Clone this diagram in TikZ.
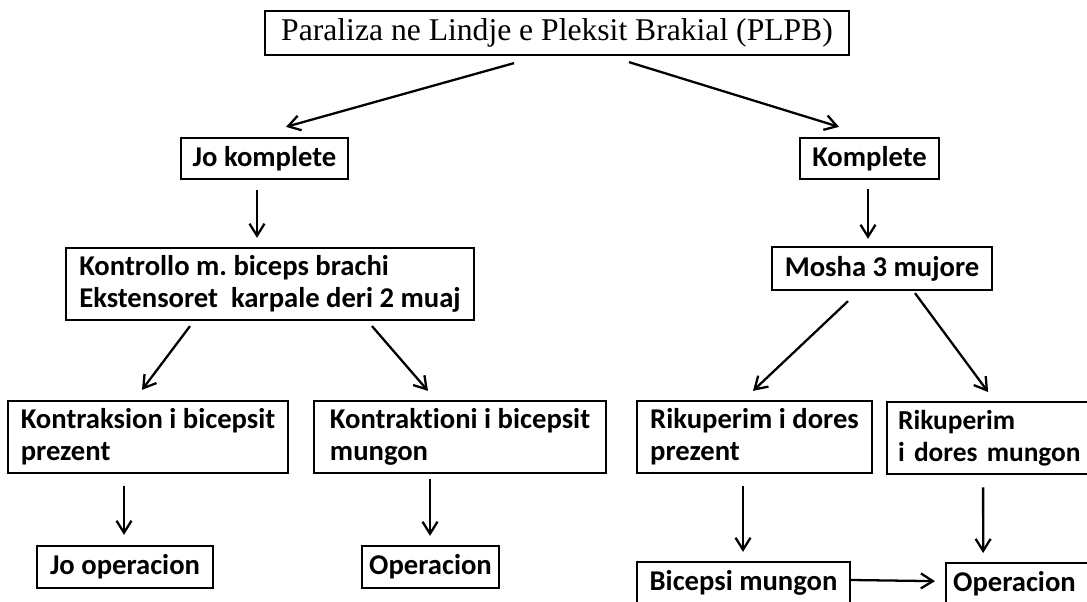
\documentclass[tikz,border=0pt]{standalone}
\usepackage{fontspec}
\setmainfont{Liberation Serif}
\setsansfont{Carlito}[Ligatures=NoCommon]
\usetikzlibrary{arrows.meta,calc}

\tikzset{
  box/.style={draw, line width=1.3pt, align=left, inner sep=0pt,
    font=\sffamily\bfseries\fontsize{16.3}{18}\selectfont},
  arr/.style={line width=1.3pt, -{Straight Barb[length=2.4mm,width=3mm]}}
}
\frenchspacing

\begin{document}
\begin{tikzpicture}[x=0.02cm, y=-0.02cm]
\useasboundingbox (0,0) rectangle (1087,601);

% Drawing boxes
\node[draw, line width=1.3pt, minimum width=11.68cm, minimum height=0.88cm, inner sep=0pt,
  font=\fontsize{18}{20}\selectfont] (plpb) at (557,33) {Paraliza ne Lindje e Pleksit Brakial (PLPB)};
\node[box, minimum width=3.34cm, minimum height=0.82cm] (jokompl) at (264.5,158.5) {Jo komplete};
\node[box, minimum width=2.78cm, minimum height=0.82cm] (kompl) at (869.5,158.5) {Komplete};
\node[box, minimum width=8.16cm, minimum height=1.44cm] (kontroll) at (270,284) {Kontrollo m. biceps brachi\\Ekstensoret\ \ karpale deri 2 muaj};
\node[box, minimum width=4.4cm, minimum height=0.86cm] (mosha) at (882,268.5) {Mosha 3 mujore};
\node[box, minimum width=5.6cm, minimum height=1.44cm] (kprez) at (148,437) {Kontraksion i bicepsit\\prezent};
\node[box, minimum width=5.84cm, minimum height=1.44cm] (kmung) at (460,437) {Kontraktioni i bicepsit\\mungon};
\node[box, minimum width=4.7cm, minimum height=1.44cm] (rprez) at (754.5,437) {Rikuperim i dores\\prezent};
\node[box, anchor=north west, text width=4cm, inner xsep=0.22cm, minimum height=1.44cm,
  font=\sffamily\bfseries\fontsize{15.6}{18}\selectfont] (rmung) at (886,401) {Rikuperim\\\mbox{i dores mungon}};
\node[box, minimum width=3.52cm, minimum height=0.84cm] (joop) at (125,567) {Jo operacion};
\node[box, minimum width=2.74cm, minimum height=0.84cm] (oplft) at (430.5,567) {Operacion};
\node[box, minimum width=4.26cm, minimum height=0.84cm] (bimung) at (743.5,583) {Bicepsi mungon};
\node[box, anchor=north west, text width=3cm, inner xsep=0.14cm, minimum height=0.84cm] (oprgt) at (945,562) {Operacion};

% Drawing arrows
\draw[arr] ($(plpb.south)+(-43,7)$) -- ($(jokompl.north)+(21.5,-10)$);
\draw[arr] ($(plpb.south)+(72,6)$) -- ($(kompl.north)+(-30.5,-10)$);
\draw[arr] ($(jokompl.south)+(-7.5,10)$) -- ($(kontroll.north)+(-13,-9)$);
\draw[arr] ($(kompl.south)+(-1.5,9)$) -- ($(mosha.north)+(-14,-7)$);
\draw[arr] ($(kontroll.south)+(-80,5)$) -- ($(kprez.north)+(-6,-10)$);
\draw[arr] ($(kontroll.south)+(102,5)$) -- ($(kmung.north)+(-32,-9)$);
\draw[arr] ($(mosha.south)+(-34,10)$) -- ($(rprez.north)+(-1.5,-9)$);
\draw[arr] ($(mosha.south)+(33,2)$) -- ($(rmung.north)+(-10,-9)$);
\draw[arr] ($(kprez.south)+(-24,12)$) -- ($(joop.north)+(-1,-10)$);
\draw[arr] ($(kmung.south)+(-30,5)$) -- ($(oplft.north)+(-0.5,-9)$);
\draw[arr] ($(rprez.south)+(-11.5,12)$) -- ($(bimung.north)+(-0.5,-9)$);
\draw[arr] ($(rmung.south)+(-15,12)$) -- ($(oprgt.north)+(-45,-9)$);
\draw[arr] ($(bimung.east)+(0,-3)$) -- ($(oprgt.west)+(-10,-3)$);
\end{tikzpicture}
\end{document}
